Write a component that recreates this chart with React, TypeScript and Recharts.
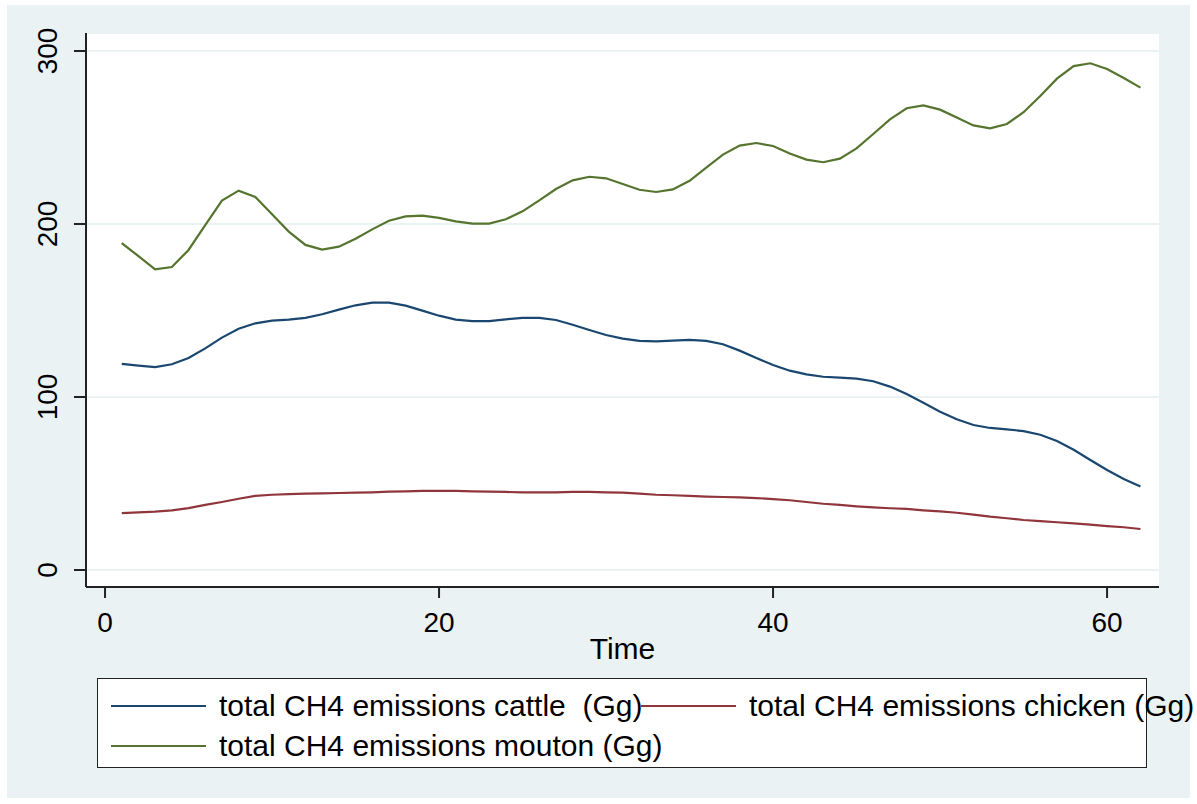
import { CartesianGrid, Line, LineChart, XAxis, YAxis } from "recharts";

// ---------------------------------------------------------------------------
// Data
// ---------------------------------------------------------------------------

const time = [
  1, 2, 3, 4, 5, 6, 7, 8, 9, 10, 11, 12, 13, 14, 15, 16, 17, 18, 19, 20, 21,
  22, 23, 24, 25, 26, 27, 28, 29, 30, 31, 32, 33, 34, 35, 36, 37, 38, 39, 40,
  41, 42, 43, 44, 45, 46, 47, 48, 49, 50, 51, 52, 53, 54, 55, 56, 57, 58, 59,
  60, 61, 62,
];

const cattle = [
  119.1, 118.1, 117.3, 118.9, 122.5, 128.1, 134.3, 139.5, 142.6, 144.1, 144.7,
  145.7, 147.8, 150.5, 153.0, 154.5, 154.5, 152.8, 149.9, 147.0, 144.7, 143.8,
  143.9, 144.9, 145.7, 145.7, 144.5, 141.8, 138.7, 135.8, 133.7, 132.4, 132.2,
  132.6, 133.0, 132.4, 130.5, 126.8, 122.5, 118.5, 115.2, 113.1, 111.7, 111.2,
  110.6, 109.1, 106.0, 101.7, 96.7, 91.5, 87.1, 83.8, 82.1, 81.3, 80.3, 78.2,
  74.6, 69.5, 63.6, 57.8, 52.6, 48.2,
];

const chicken = [
  32.9, 33.3, 33.7, 34.5, 35.8, 37.6, 39.3, 41.2, 42.8, 43.5, 43.9, 44.1, 44.3,
  44.5, 44.7, 44.9, 45.3, 45.5, 45.7, 45.7, 45.7, 45.5, 45.3, 45.1, 44.9, 44.9,
  44.9, 45.1, 45.1, 44.9, 44.7, 44.1, 43.5, 43.2, 42.8, 42.4, 42.2, 42.0, 41.6,
  41.0, 40.3, 39.3, 38.3, 37.6, 36.8, 36.2, 35.7, 35.3, 34.5, 33.9, 33.1, 32.0,
  30.8, 29.9, 28.9, 28.2, 27.6, 27.0, 26.2, 25.4, 24.7, 23.7,
];

const mouton = [
  189.0, 181.4, 173.8, 175.1, 185.0, 199.4, 213.5, 219.3, 215.6, 205.6, 195.6,
  187.9, 185.2, 186.9, 191.5, 196.9, 201.9, 204.4, 204.8, 203.5, 201.5, 200.2,
  200.2, 202.7, 207.3, 213.7, 220.2, 225.2, 227.3, 226.4, 223.1, 219.8, 218.5,
  220.0, 225.0, 232.6, 240.1, 245.3, 246.8, 245.1, 240.8, 237.2, 235.7, 237.8,
  243.7, 252.0, 260.5, 266.9, 268.6, 266.1, 261.5, 257.0, 255.3, 257.8, 264.6,
  274.0, 284.0, 291.3, 292.9, 289.6, 284.4, 278.8,
];

const xTicks = [0, 20, 40, 60];
const yTicks = [0, 100, 200, 300];

const data = time.map((t, i) => ({
  t,
  cattle: cattle[i],
  chicken: chicken[i],
  mouton: mouton[i],
}));

const FONT = '"Liberation Sans", Arial, sans-serif';
const NAVY = "#1a476f";
const MAROON = "#90353b";
const GREEN = "#55752f";
const BG = "#eaf2f3";

// ---------------------------------------------------------------------------
// Ticks
// ---------------------------------------------------------------------------

function YTick({ x, y, payload }: { x?: number; y?: number; payload?: { value: number } }) {
  const cx = (x ?? 0) - 24;
  return (
    <text
      x={cx}
      y={y}
      transform={`rotate(-90 ${cx} ${y})`}
      textAnchor="middle"
      dominantBaseline="central"
      fontFamily={FONT}
      fontSize={28}
      fill="#000"
    >
      {payload?.value}
    </text>
  );
}

function XTick({ x, y, payload }: { x?: number; y?: number; payload?: { value: number } }) {
  return (
    <text
      x={x}
      y={(y ?? 0) + 22}
      textAnchor="middle"
      dominantBaseline="central"
      fontFamily={FONT}
      fontSize={28}
      fill="#000"
    >
      {payload?.value}
    </text>
  );
}

// ---------------------------------------------------------------------------
// Legend
// ---------------------------------------------------------------------------

function LegendBox() {
  const items = [
    { label: "total CH4 emissions cattle  (Gg)", color: NAVY, left: 13, top: 27 },
    { label: "total CH4 emissions chicken (Gg)", color: MAROON, left: 543, top: 27 },
    { label: "total CH4 emissions mouton (Gg)", color: GREEN, left: 13, top: 67 },
  ];
  return (
    <div
      style={{
        position: "absolute",
        left: 97,
        top: 678,
        width: 1050,
        height: 90,
        boxSizing: "border-box",
        border: "1.5px solid #222",
        background: "#fff",
        fontFamily: FONT,
      }}
    >
      {items.map((it) => (
        <div
          key={it.label}
          style={{
            position: "absolute",
            left: it.left,
            top: it.top,
            display: "flex",
            alignItems: "center",
            height: 0,
            whiteSpace: "pre",
          }}
        >
          <div style={{ width: 95, height: 2, background: it.color }} />
          <span style={{ marginLeft: 13, fontSize: 30, color: "#000", lineHeight: 1 }}>
            {it.label}
          </span>
        </div>
      ))}
    </div>
  );
}

// ---------------------------------------------------------------------------
// Chart
// ---------------------------------------------------------------------------

export default function App() {
  return (
    <div
      style={{
        position: "absolute",
        left: 0,
        top: 0,
        width: 1197,
        height: 804,
        background: "#fff",
      }}
    >
      <div
        style={{
          position: "absolute",
          left: 7,
          top: 5,
          width: 1183,
          height: 793,
          background: BG,
        }}
      />
      <div style={{ position: "absolute", left: 0, top: 0 }}>
        <LineChart
          width={1197}
          height={804}
          data={data}
          margin={{ top: 33, right: 38, left: 26, bottom: 157 }}
        >
          <CartesianGrid
            vertical={false}
            stroke={BG}
            strokeWidth={2}
            fill="#fff"
            fillOpacity={1}
          />
          <XAxis
            dataKey="t"
            type="number"
            domain={[-1.14, 63.11]}
            allowDataOverflow
            ticks={xTicks}
            height={60}
            axisLine={{ stroke: "#222", strokeWidth: 2 }}
            tickLine={{ stroke: "#222", strokeWidth: 2 }}
            tickSize={11}
            tick={<XTick />}
            label={{
              content: ({ viewBox }: any) => (
                <text
                  x={viewBox.x + viewBox.width / 2}
                  y={648}
                  textAnchor="middle"
                  dominantBaseline="central"
                  fontFamily={FONT}
                  fontSize={30}
                  fill="#000"
                >
                  Time
                </text>
              ),
            }}
          />
          <YAxis
            type="number"
            domain={[-9.83, 310.4]}
            allowDataOverflow
            ticks={yTicks}
            width={60}
            axisLine={{ stroke: "#222", strokeWidth: 2 }}
            tickLine={{ stroke: "#222", strokeWidth: 2 }}
            tickSize={12}
            tick={<YTick />}
          />
          <Line
            type="linear"
            dataKey="cattle"
            stroke={NAVY}
            strokeWidth={2.2}
            dot={false}
            isAnimationActive={false}
          />
          <Line
            type="linear"
            dataKey="chicken"
            stroke={MAROON}
            strokeWidth={2.2}
            dot={false}
            isAnimationActive={false}
          />
          <Line
            type="linear"
            dataKey="mouton"
            stroke={GREEN}
            strokeWidth={2.2}
            dot={false}
            isAnimationActive={false}
          />
        </LineChart>
      </div>
      <LegendBox />
    </div>
  );
}
